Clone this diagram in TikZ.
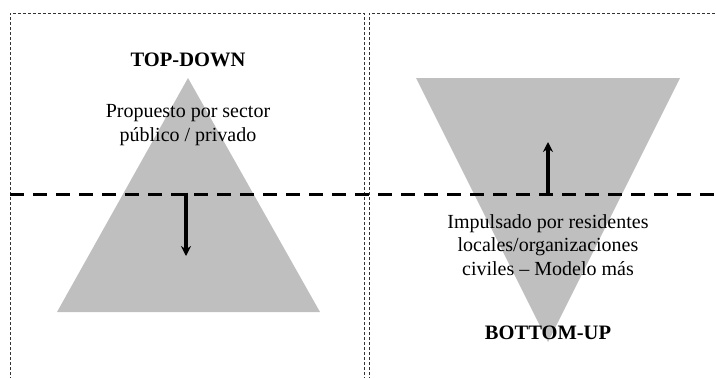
\documentclass[tikz,border=0pt]{standalone}
\usepackage{fontspec}
\setmainfont{Liberation Serif}
\usetikzlibrary{arrows.meta}
\begin{document}
\begin{tikzpicture}[x=1pt,y=-1pt,
  framebox/.style={draw=black!80,line width=0.8pt,dash pattern=on 3pt off 2pt},
  divider/.style={draw=black,line width=3pt,dash pattern=on 14pt off 9pt},
  tri/.style={fill=black!25,draw=none},
  flowarrow/.style={draw=black,line width=3.4pt,-{Stealth[length=10pt,width=10pt]}},
  title/.style={font=\fontsize{20.5}{24}\selectfont\bfseries,inner sep=0pt},
  body/.style={font=\fontsize{20}{23.5}\selectfont,align=center,inner sep=0pt}]
\useasboundingbox (0,0) rectangle (716,378);
% frames
\draw[framebox] (10,390) -- (10,13) -- (364,13) -- (364,390);
\draw[framebox] (369,390) -- (369,13) -- (730,13);
% triangles
\coordinate (lapex) at (188,78);
\coordinate (lbl) at (57,312);
\coordinate (lbr) at (320,312);
\fill[tri] (lapex) -- (lbr) -- (lbl) -- cycle;
\coordinate (rapex) at (548,342);
\coordinate (rtl) at (416,78);
\coordinate (rtr) at (680,78);
\fill[tri] (rtl) -- (rtr) -- (rapex) -- cycle;
% divider
\coordinate (dl) at (10,194);
\coordinate (dr) at (720,194);
\draw[divider] (dl) -- (dr);
% arrows
\coordinate (a1s) at (186,192.5);
\coordinate (a1e) at (186,256);
\draw[flowarrow] (a1s) -- (a1e);
\coordinate (a2s) at (548,195.5);
\coordinate (a2e) at (548,142);
\draw[flowarrow] (a2s) -- (a2e);
% texts
\node[title] (td) at (188,60) {TOP-DOWN};
\node[body] (tdtext) at (188,125) {Propuesto por sector\\público / privado};
\node[body] (butext) at (548,245) {Impulsado por residentes\\locales/organizaciones\\civiles – Modelo más};
\node[title] (bu) at (548,333) {BOTTOM-UP};
\end{tikzpicture}
\end{document}
